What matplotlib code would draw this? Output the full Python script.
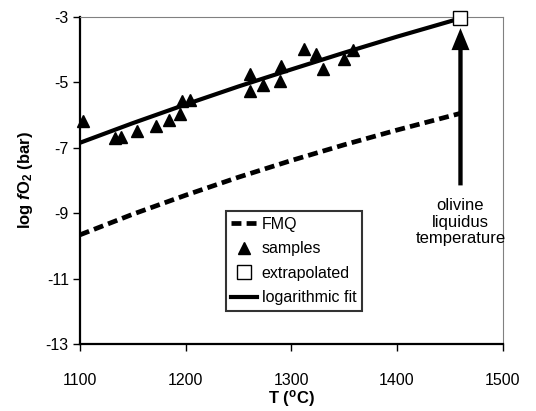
import matplotlib
matplotlib.use("Agg")
import matplotlib.pyplot as plt

plt.rcParams['font.family'] = ['Liberation Sans', 'DejaVu Sans']
plt.rcParams['mathtext.fontset'] = 'custom'
plt.rcParams['mathtext.rm'] = 'Liberation Sans:bold'
plt.rcParams['mathtext.it'] = 'Liberation Sans:bold:italic'
plt.rcParams['mathtext.bf'] = 'Liberation Sans:bold'
plt.rcParams['axes.unicode_minus'] = False

# samples
sample_T = [1103, 1133, 1139, 1154, 1172, 1184, 1195, 1197, 1204,
            1261, 1261, 1273, 1289, 1290, 1312, 1323, 1330, 1350, 1358]
sample_fo2 = [-6.18, -6.71, -6.66, -6.48, -6.34, -6.15, -5.97, -5.57, -5.54,
              -4.76, -5.27, -5.10, -4.96, -4.50, -3.99, -4.14, -4.60, -4.29, -4.02]

# extrapolated point at olivine liquidus
extrap_T = [1460]
extrap_fo2 = [-3.05]

# logarithmic fit
fit_T = [1100, 1150, 1200, 1250, 1300, 1350, 1400, 1460]
fit_fo2 = [-6.85, -6.25, -5.68, -5.13, -4.61, -4.10, -3.61, -3.05]

# FMQ buffer
fmq_T = [1100, 1150, 1200, 1250, 1300, 1350, 1400, 1460]
fmq_fo2 = [-9.66, -9.03, -8.45, -7.90, -7.39, -6.91, -6.46, -5.95]

x_ticks = [1100, 1200, 1300, 1400, 1500]
y_ticks = [-13, -11, -9, -7, -5, -3]

fig = plt.figure(figsize=(5.36, 4.11), dpi=100)
ax = fig.add_axes([0.149, 0.1623, 0.789, 0.7971])

ax.plot(fmq_T, fmq_fo2, color='black', lw=3.4, dashes=(2.1, 1.1), label='FMQ')
ax.plot(sample_T, sample_fo2, ls='none', marker='^', ms=8.5, color='black',
        clip_on=False, label='samples', zorder=4)
ax.plot(extrap_T, extrap_fo2, ls='none', marker='s', ms=9.5, mfc='white',
        mec='black', mew=1.0, label='extrapolated', zorder=5, clip_on=False)
ax.plot(fit_T, fit_fo2, color='black', lw=3, label='logarithmic fit', zorder=3)

# arrow pointing at the extrapolated point
ax.arrow(1460, -8.15, 0, 4.8, width=4.1, head_width=17, head_length=0.67,
         length_includes_head=True, lw=0, fc='black', zorder=3)
ax.text(1460, -9.27, 'olivine\nliquidus\ntemperature', ha='center', va='center',
        fontsize=12, linespacing=1.12)

ax.set_xlim(1100, 1500)
ax.set_ylim(-13, -3)
ax.set_xticks(x_ticks)
ax.set_xticklabels([str(v) for v in x_ticks])
ax.set_yticks(y_ticks)
ax.set_yticklabels([str(v) for v in y_ticks])
ax.tick_params(direction='out', length=5, width=1, labelsize=11.5, colors='black')
ax.tick_params(axis='x', pad=16)
ax.tick_params(axis='y', pad=3)

for s in ['left', 'bottom']:
    ax.spines[s].set_linewidth(1.6)
    ax.spines[s].set_color('black')
for s in ['top', 'right']:
    ax.spines[s].set_linewidth(0.8)
    ax.spines[s].set_color('#808080')

ax.set_xlabel(r'T ($^{\mathrm{o}}$C)', fontsize=12, fontweight='bold', labelpad=0)
ax.set_ylabel(r'log $\mathit{f}$O$_{\mathrm{2}}$ (bar)', fontsize=12,
              fontweight='bold', labelpad=8)

leg = ax.legend(loc='upper left', bbox_to_anchor=(0.345, 0.407), borderaxespad=0,
                fontsize=11.5, frameon=True, fancybox=False, handlelength=1.6,
                handletextpad=0.3, labelspacing=0.6, borderpad=0.35)
leg.get_frame().set_edgecolor('black')
leg.get_frame().set_linewidth(1.5)

fig.savefig('out.png', dpi=100)
